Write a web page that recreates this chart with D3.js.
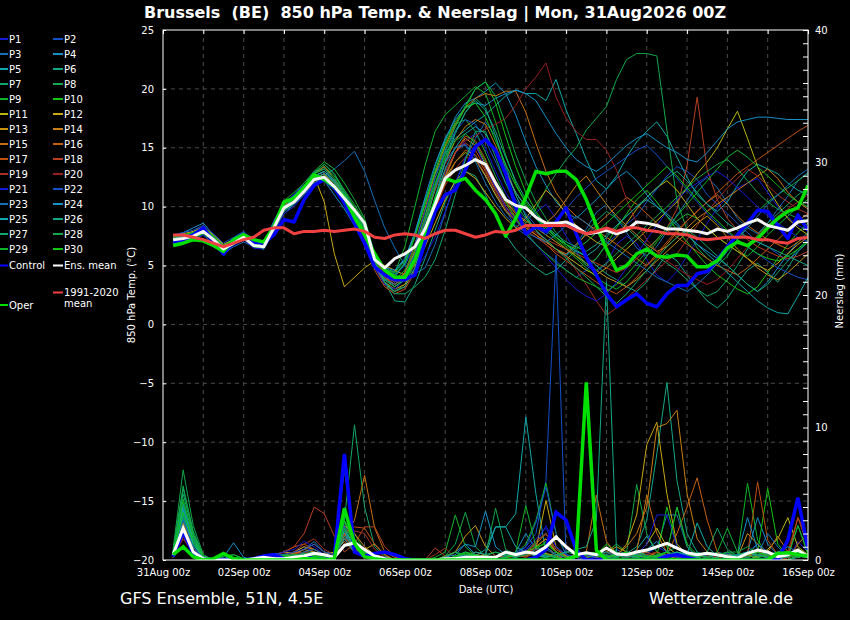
<!DOCTYPE html>
<html>
<head>
<meta charset="utf-8">
<script src="https://cdn.jsdelivr.net/npm/d3@7"></script>
<style>
  body { margin: 0; background: #000; }
  svg { display: block; }
  text { font-family: "DejaVu Sans", sans-serif; }
</style>
</head>
<body>
<script>
// 6-hourly steps, 31Aug 06z .. 16Sep 00z
var stepHours = d3.range(6, 385, 6);
var tickDays = ['31Aug 00z','02Sep 00z','04Sep 00z','06Sep 00z','08Sep 00z','10Sep 00z','12Sep 00z','14Sep 00z','16Sep 00z'];

// 850 hPa temperature (°C)
var tMean = [7.2,7.3,7.5,7.9,7.2,6.4,6.9,7.4,6.7,6.6, 8.2,9.9,10.4,11.3,12.3,12.5,11.7,10.7,9.7,8.6, 5.5,4.8,5.6,6.0,6.6,8.1,10.2,12.4,13.1,13.5, 14.0,13.6,12.0,10.6,10.1,9.9,9.1,8.6,8.6,8.7, 8.3,7.7,7.8,8.0,7.7,8.0,8.7,8.6,8.4,8.1, 8.1,8.0,7.9,7.7,8.1,7.9,8.2,8.6,8.9,8.4, 8.2,8.0,8.7,8.8];
var tControl = [7.0,7.2,7.6,8.2,7.0,6.0,7.2,7.4,7.0,6.9, 7.6,8.9,8.7,10.6,11.8,12.3,11.6,10.3,8.6,6.9, 4.9,4.2,3.8,3.8,4.2,7.0,9.6,11.0,11.4,13.1, 15.1,15.7,14.8,12.8,10.0,7.7,8.3,7.9,8.7,9.9, 7.7,5.7,4.2,2.6,1.5,2.1,2.6,1.8,1.5,2.6, 3.3,3.3,4.3,4.5,5.5,6.6,7.6,8.6,9.7,9.6, 8.4,7.3,9.3,8.0];
var tOper = [6.7,6.9,7.2,7.1,6.7,6.2,7.2,7.6,7.2,7.0, 8.3,10.4,10.7,11.6,12.7,12.3,11.7,10.8,9.1,7.6, 6.0,4.6,4.0,4.0,5.5,7.9,10.4,12.4,12.1,12.4, 11.4,10.6,9.4,7.5,9.0,10.8,13.0,12.8,13.0,13.0, 12.3,10.6,8.4,6.4,4.6,5.0,6.0,6.4,5.8,5.7, 5.9,5.8,4.9,4.9,5.4,6.5,7.0,6.7,7.3,8.2, 9.0,9.6,9.9,11.8];
var tClim = [7.6,7.6,7.4,7.2,6.9,6.6,6.9,7.2,7.4,8.0, 8.2,8.2,7.7,7.9,7.9,8.0,7.9,8.0,8.1,7.9, 7.4,7.3,7.6,7.7,7.6,7.3,7.7,8.0,8.0,7.7, 7.4,7.6,7.9,7.8,8.0,8.4,8.4,8.4,8.4,8.4, 8.0,7.7,7.9,8.2,7.9,8.2,8.2,8.0,7.9,7.7, 7.7,7.6,7.3,7.2,7.3,7.4,7.4,7.4,7.2,7.2, 7.0,6.9,7.3,7.4];

var P1 = [7.0,7.1,7.6,8.3,7.0,5.8,6.8,7.2,6.5,6.4, 8.0,9.6,10.3,11.5,12.6,12.9,12.0,10.5,9.0,7.5, 5.0,4.0,3.6,4.2,5.8,8.0,10.5,12.8,14.5,15.6, 16.2,15.0,13.0,11.2,9.8,8.9,9.5,10.2,9.0,7.5, 6.2,5.0,4.4,5.2,6.8,7.5,6.9,5.5,4.2,3.6, 4.5,5.8,7.2,8.6,9.9,10.8,11.6,12.0,12.4,11.2, 10.0,9.1,8.4,8.0];
var P2 = [7.3,7.5,7.8,8.0,7.3,6.5,7.0,7.6,6.9,6.7, 8.5,10.2,11.0,12.0,13.0,13.2,12.2,11.0,9.6,8.0, 5.6,4.5,4.3,5.1,6.8,9.0,11.5,13.7,15.0,15.3, 14.2,12.6,11.0,9.8,8.2,7.6,6.8,6.0,5.4,4.6, 4.0,4.6,5.6,6.8,7.6,8.5,9.2,10.4,11.5,12.6, 13.4,13.0,12.3,11.0,10.2,9.4,8.6,7.8,7.0,6.6, 6.0,5.4,6.2,7.0];
var P3 = [6.8,6.9,7.2,7.6,6.8,6.0,6.6,7.0,6.6,6.9, 8.8,10.4,10.9,11.6,12.0,12.6,13.2,13.9,14.7,13.0, 10.5,8.2,6.5,5.0,4.3,4.8,6.8,9.5,12.0,14.0, 15.8,17.2,16.0,13.5,11.0,9.2,8.0,7.0,6.4,5.9, 6.8,8.1,9.5,10.2,9.0,7.8,6.5,5.8,6.6,7.9, 9.3,10.5,11.8,12.5,11.6,10.3,9.0,8.2,7.7,8.6, 9.8,10.9,12.2,12.9];
var P4 = [7.5,7.8,8.2,8.6,7.6,6.7,7.3,7.8,7.0,6.8, 8.6,10.0,10.8,11.6,12.4,12.2,11.0,9.8,8.4,7.0, 4.8,3.8,4.0,5.2,7.5,10.2,13.0,15.6,17.6,18.8, 19.2,19.8,20.5,19.6,17.8,15.5,13.4,11.8,10.4,9.5, 9.0,9.8,10.6,11.5,12.4,13.0,12.2,11.0,10.0,9.4, 8.6,7.6,6.8,6.2,5.6,5.0,4.2,3.4,2.8,3.6, 4.8,6.0,7.0,7.8];
var P5 = [7.0,7.2,7.4,7.7,7.1,6.3,6.8,7.3,6.6,6.5, 8.1,9.7,10.4,11.4,12.2,12.8,12.1,11.0,9.8,8.4, 5.8,4.6,4.5,5.5,7.8,10.6,12.8,14.5,15.8,16.5, 17.2,17.8,18.6,19.4,19.9,19.6,19.6,19.0,20.8,18.2, 16.2,14.0,12.2,11.5,12.6,14.2,15.5,16.4,17.2,16.0, 14.2,12.5,11.0,10.2,9.6,10.4,11.8,13.0,13.6,13.2, 12.8,12.0,11.4,11.0];
var P6 = [7.1,7.4,7.7,8.1,7.4,6.6,7.1,7.5,6.8,6.4, 7.9,9.4,10.2,11.0,12.0,12.4,11.6,10.4,9.2,8.0, 5.2,3.6,2.0,1.9,3.4,5.6,8.0,10.4,12.2,13.0, 12.6,11.0,9.2,7.6,6.4,5.5,4.8,4.2,4.6,5.5, 6.3,5.8,5.0,4.3,3.8,3.2,2.8,3.6,4.8,6.0, 5.4,4.2,3.0,2.0,1.4,2.2,3.5,4.6,5.2,4.4, 3.6,4.8,6.2,7.0];
var P7 = [6.9,7.0,7.3,7.8,7.0,6.2,6.9,7.4,6.8,6.7, 8.4,10.1,10.9,11.8,12.9,13.6,12.8,11.2,9.4,7.6, 4.9,3.4,2.8,3.4,5.2,8.2,11.6,14.2,16.4,18.0, 19.2,18.4,16.0,13.2,11.0,9.2,8.0,7.2,6.4,5.8, 6.6,7.8,8.8,9.6,9.0,8.2,7.4,6.6,5.8,5.2, 4.6,3.8,3.0,2.4,2.8,3.8,5.0,6.4,7.6,8.6, 9.4,10.2,11.0,11.6];
var P8 = [7.2,7.3,7.6,8.0,7.3,6.4,6.9,7.3,6.6,6.4, 8.0,9.8,10.6,11.6,12.8,13.4,12.6,11.4,10.2,8.8, 6.0,4.8,4.4,5.4,7.6,10.4,13.4,15.8,17.0,17.4, 16.4,14.6,12.6,10.8,9.6,8.6,9.8,11.5,12.8,14.0, 15.0,16.5,17.5,18.5,20.8,22.5,23.0,23.0,22.8,16.5, 10.5,8.0,6.5,5.6,5.0,5.8,7.2,8.4,9.6,10.4, 11.0,11.6,12.2,12.8];
var P9 = [7.4,7.6,7.8,8.2,7.5,6.7,7.2,7.7,6.9,6.8, 8.6,10.5,11.2,12.0,13.0,13.8,13.2,12.0,10.6,9.0, 6.0,4.6,4.4,6.6,10.0,13.5,16.4,17.8,18.6,19.4, 20.2,19.6,17.2,14.4,12.0,10.2,9.0,8.0,7.2,6.4, 5.6,4.8,4.0,3.4,3.0,3.6,4.6,5.8,7.0,8.0, 8.8,9.4,9.0,8.2,7.4,6.8,6.2,5.8,6.6,7.6, 8.4,9.2,10.0,10.6];
var P10 = [7.0,7.1,7.3,7.7,7.0,6.2,6.8,7.3,6.7,6.7, 8.2,10.0,10.7,11.6,12.6,13.0,12.2,11.0,9.8,8.4, 5.4,3.8,3.2,4.0,6.2,9.2,12.4,15.0,16.8,18.4, 20.0,20.6,18.8,16.0,13.4,11.2,9.6,8.4,7.4,6.6, 5.8,5.0,5.6,6.8,8.2,9.4,10.6,11.4,10.4,9.2, 8.0,7.0,6.0,5.0,4.2,3.6,3.0,2.6,3.2,4.4, 5.6,6.8,7.8,8.6];
var P11 = [7.3,7.4,7.6,8.0,7.4,6.6,7.1,7.6,6.9,6.7, 8.3,10.0,10.6,11.5,12.4,12.8,12.0,10.8,9.6,8.2, 5.4,4.0,3.4,4.0,5.6,7.8,10.2,12.4,13.8,14.6, 14.0,12.6,11.0,9.6,8.8,8.2,7.6,7.0,6.4,5.8, 5.2,4.6,4.2,4.8,5.6,6.4,7.2,8.0,8.8,9.6, 10.4,11.6,12.8,13.8,15.0,16.6,18.1,15.8,13.4,11.6, 10.2,9.0,8.2,7.6];
var P12 = [7.5,7.7,7.9,8.3,7.6,6.8,7.2,7.7,7.0,6.9, 8.5,10.2,10.8,11.8,12.6,10.4,6.0,3.2,4.0,4.8, 5.4,5.0,4.6,4.2,5.0,6.6,8.6,10.6,12.2,13.0, 12.4,11.2,10.0,9.0,8.2,9.0,10.2,11.4,10.6,9.4, 8.4,7.6,7.0,6.6,7.4,8.6,9.8,10.8,11.6,12.2, 11.4,10.2,9.0,8.2,7.4,6.8,6.2,5.6,5.0,4.6, 5.2,6.0,6.8,7.4];
var P13 = [7.1,7.2,7.4,7.8,7.1,6.3,6.8,7.3,6.6,6.5, 8.0,9.8,10.5,11.4,12.4,12.8,11.8,10.6,9.4,8.0, 5.2,3.6,3.0,3.4,4.8,7.2,10.0,12.6,14.6,15.8, 15.2,13.6,11.8,10.4,9.4,8.8,8.2,7.6,7.0,6.4, 5.8,5.2,4.6,4.0,3.6,3.2,3.8,4.6,5.4,6.2, 7.0,7.8,8.6,9.2,8.4,7.4,6.4,5.6,4.8,4.2, 3.8,4.4,5.2,6.0];
var P14 = [7.4,7.5,7.7,8.0,7.3,6.5,7.0,7.5,6.8,6.6, 8.2,10.0,10.8,11.8,12.8,13.4,12.4,11.0,9.6,8.2, 5.6,4.2,3.6,4.4,6.2,8.8,11.4,13.8,15.6,16.8, 17.4,17.0,15.2,13.0,11.2,10.0,9.2,8.6,9.4,10.6, 11.8,12.6,11.4,10.2,9.2,8.4,7.6,6.8,6.2,6.6, 7.4,8.2,9.0,9.6,10.2,10.8,11.4,12.0,12.6,13.2, 12.4,11.2,10.4,9.8];
var P15 = [7.2,7.3,7.5,7.9,7.2,6.4,6.9,7.4,6.7,6.6, 8.1,9.8,10.4,11.3,12.2,12.6,11.8,10.6,9.4,8.0, 5.2,3.8,3.4,4.4,6.8,9.8,12.8,15.2,17.0,18.4, 19.2,19.6,19.4,19.8,19.8,18.0,15.4,13.0,11.2,10.0, 9.2,8.6,8.0,7.4,6.8,6.2,5.6,5.0,5.8,6.8, 7.8,8.8,9.6,10.4,11.0,10.2,9.2,8.4,7.8,7.2, 6.8,6.4,7.0,7.6];
var P16 = [7.0,7.2,7.5,7.8,7.1,6.3,6.8,7.2,6.6,6.5, 8.0,9.6,10.4,11.2,12.2,12.6,11.8,10.6,9.2,7.8, 5.0,3.4,2.8,3.2,4.6,7.0,9.6,12.0,13.8,14.8, 14.4,13.0,11.4,10.0,9.0,8.2,7.6,7.0,6.4,6.0, 6.8,7.6,8.4,9.2,10.0,10.8,10.2,9.4,8.6,8.0, 7.4,6.8,6.2,5.6,5.0,4.6,4.2,4.8,5.6,6.4, 7.2,8.0,8.8,9.4];
var P17 = [7.3,7.4,7.6,8.0,7.3,6.5,7.0,7.5,6.8,6.7, 8.3,10.1,10.8,11.6,12.6,13.0,12.2,10.8,9.2,7.6, 4.6,3.2,2.6,3.0,4.4,6.8,9.6,12.4,14.6,16.0, 15.6,14.0,12.2,10.6,9.4,8.4,7.6,6.8,6.0,5.4, 4.8,4.2,3.6,3.0,2.6,3.2,4.0,5.0,6.0,7.0, 8.0,8.8,9.6,10.4,11.2,12.0,12.8,13.4,14.0,14.6, 15.2,15.8,16.4,16.9];
var P18 = [7.1,7.2,7.4,7.8,7.2,6.4,6.9,7.4,6.7,6.6, 8.2,9.9,10.5,11.4,12.4,12.8,12.0,10.8,9.6,8.2, 5.4,4.0,3.4,4.0,5.6,8.0,10.6,13.0,14.6,15.4, 14.8,13.2,11.6,10.2,9.2,8.4,7.8,7.2,6.8,6.4, 6.0,5.6,5.2,4.8,4.4,4.8,5.6,6.4,7.2,8.2, 9.8,13.5,19.3,13.1,10.6,9.0,8.0,7.2,6.6,6.2, 5.8,5.6,5.8,6.2];
var P19 = [7.2,7.4,7.6,8.0,7.3,6.5,7.0,7.5,6.8,6.7, 8.1,9.8,10.4,11.2,12.0,12.2,11.4,10.2,9.0,7.8, 5.2,3.8,3.2,3.8,5.2,7.4,9.8,11.8,13.2,14.2, 14.0,12.8,11.2,9.8,8.8,8.0,7.4,6.8,6.2,5.8, 4.6,3.4,2.0,0.8,1.4,2.2,3.0,3.8,4.6,5.4, 6.0,7.2,8.4,9.6,10.6,11.6,12.4,13.2,12.6,11.8, 11.0,10.4,9.8,9.4];
var P20 = [7.4,7.5,7.7,8.1,7.4,6.6,7.1,7.6,6.9,6.8, 8.4,10.2,10.8,11.6,12.6,13.0,12.2,11.0,9.8,8.4, 5.6,4.4,3.8,4.6,6.4,9.0,11.6,13.6,15.0,15.6, 16.0,16.6,17.0,17.5,18.6,20.0,21.0,22.2,19.3,17.5, 16.4,15.7,15.7,14.8,13.1,10.6,8.6,7.2,6.2,5.4, 4.8,4.2,3.8,3.4,3.8,4.6,5.6,6.6,7.6,8.4, 9.2,9.8,10.4,11.0];
var P21 = [6.8,6.9,7.1,7.6,6.9,6.1,6.7,7.2,6.5,6.4, 7.8,9.4,10.0,11.0,12.0,12.4,11.6,10.4,9.0,7.6, 4.8,3.4,3.0,3.8,4.6,5.8,7.4,9.6,12.0,14.2, 15.2,13.4,11.6,10.0,8.8,7.8,6.8,5.8,4.8,3.8, 3.0,2.4,2.0,2.6,3.6,4.8,6.0,7.2,8.4,9.6, 10.6,11.4,12.0,12.6,13.0,12.4,11.6,10.8,10.0,9.2, 8.6,8.0,7.4,7.0];
var P22 = [7.6,7.8,8.0,8.4,7.7,6.9,7.4,7.9,7.1,7.0, 8.6,10.3,11.0,11.8,12.8,13.2,12.4,11.2,9.8,8.4, 5.8,4.6,4.2,5.0,6.8,9.6,12.4,14.8,16.4,17.4, 17.0,15.6,13.8,12.0,10.6,9.4,8.4,7.6,8.6,9.8, 10.8,11.6,12.4,13.0,13.6,14.2,14.8,15.2,14.4,13.4, 12.4,11.4,10.4,9.4,8.6,7.8,7.2,6.6,6.0,5.4, 4.8,4.4,4.0,3.8];
var P23 = [7.0,7.1,7.4,7.9,7.2,6.4,6.9,7.4,6.7,6.6, 8.0,9.6,10.2,11.0,12.0,12.2,11.4,10.2,9.0,7.6, 5.0,3.8,3.4,4.2,6.0,8.8,11.6,13.8,15.0,15.2, 13.8,12.0,10.4,9.2,8.4,7.8,7.4,7.0,7.6,8.4, 9.2,8.6,7.8,7.0,6.4,5.8,5.2,4.6,4.0,3.6, 3.2,2.8,3.4,4.2,5.2,6.2,7.2,8.2,9.2,10.2, 11.0,11.8,12.6,13.2];
var P24 = [7.3,7.5,7.8,8.2,7.4,6.6,7.1,7.6,6.9,6.8, 8.4,10.0,10.7,11.6,12.6,13.0,12.2,11.0,9.8,8.6, 6.0,4.8,4.6,5.6,7.8,10.8,13.6,15.8,17.4,18.4, 18.8,18.6,19.2,19.6,19.9,19.6,19.0,17.6,16.2,15.0, 14.0,13.4,13.0,13.6,14.4,15.2,15.8,16.2,15.6,15.0, 14.6,14.0,13.8,14.6,15.6,16.6,17.2,17.4,17.6,17.6, 17.5,17.4,17.4,17.4];
var P25 = [7.1,7.2,7.5,7.9,7.2,6.4,6.9,7.3,6.6,6.5, 8.0,9.7,10.4,11.2,12.2,12.6,11.8,10.6,9.4,8.0, 5.2,3.8,3.2,3.8,5.4,8.0,10.8,13.2,15.0,16.2, 16.8,16.2,14.6,12.8,11.2,10.0,9.0,8.2,7.4,6.8, 6.2,5.8,6.4,7.4,8.4,9.2,10.0,10.6,10.0,9.2, 8.4,7.6,6.8,6.0,5.2,4.4,3.6,2.8,2.0,1.4, 1.0,0.9,2.4,4.0];
var P26 = [7.2,7.4,7.7,8.1,7.4,6.6,7.1,7.6,6.9,6.7, 8.3,10.0,10.7,11.6,12.6,13.0,12.2,11.0,9.6,8.0, 5.2,3.6,2.8,3.2,4.8,7.6,10.8,13.8,16.2,18.0, 19.0,18.2,16.4,14.2,12.2,10.6,9.4,8.4,7.6,7.0, 6.6,6.2,6.8,7.6,8.4,9.2,10.0,10.8,11.6,12.4, 13.0,12.2,11.2,10.2,9.4,8.6,8.0,7.4,7.0,6.6, 6.2,5.8,5.4,5.0];
var P27 = [7.0,7.1,7.4,7.8,7.1,6.3,6.8,7.3,6.6,6.5, 8.1,9.8,10.5,11.4,12.4,12.8,12.0,10.8,9.6,8.2, 5.2,3.6,2.6,2.6,3.2,4.0,5.5,8.0,11.0,14.0, 16.4,16.4,14.2,12.0,10.2,9.0,8.0,7.2,6.4,5.6, 4.8,4.0,3.2,2.4,1.8,2.6,3.6,4.6,5.6,6.6, 7.4,8.0,7.4,6.6,5.8,5.0,4.2,3.4,2.8,3.4, 4.4,5.4,6.4,7.2];
var P28 = [7.3,7.4,7.6,8.0,7.3,6.5,7.0,7.5,6.8,6.7, 8.2,9.9,10.6,11.6,12.8,13.6,12.8,11.4,9.8,8.2, 5.4,3.8,3.2,3.8,5.6,8.6,11.8,14.6,16.8,18.6, 20.0,20.6,19.4,17.0,14.4,12.2,10.4,9.0,7.8,6.8, 6.0,5.2,4.6,5.2,6.0,6.8,7.6,8.4,9.2,10.0, 10.8,11.6,12.4,13.0,13.6,14.0,13.2,12.2,11.2,10.4, 9.8,9.4,9.0,8.8];
var P29 = [7.1,7.2,7.4,7.8,7.1,6.3,6.8,7.3,6.6,6.5, 8.0,9.7,10.3,11.2,12.2,12.6,11.8,10.6,9.4,8.0, 5.4,4.2,3.8,4.6,6.4,9.2,12.0,14.2,15.6,16.2, 15.4,13.8,12.0,10.4,9.0,7.8,6.8,6.0,5.2,4.6, 4.0,3.6,3.2,2.8,3.4,4.2,5.2,6.2,7.2,8.2, 9.2,10.2,11.2,12.2,13.2,14.2,14.8,14.2,13.4,12.6, 11.8,11.0,10.4,10.0];
var P30 = [7.4,7.6,7.8,8.2,7.5,6.7,7.2,7.7,7.0,6.9, 8.5,10.2,10.9,11.8,12.8,13.2,12.4,11.2,10.0,8.6, 5.8,4.6,4.2,5.2,7.4,10.2,13.0,15.4,17.2,18.4, 18.8,17.6,15.6,13.6,11.8,10.4,9.2,8.2,7.4,6.8, 6.4,7.0,7.8,8.6,9.4,10.2,11.0,11.8,12.6,13.4, 12.6,11.6,10.6,9.6,8.8,8.0,7.2,6.6,6.0,5.6, 5.4,5.8,6.4,7.0];

// precipitation per 6 h (mm)
var pMean = [.4,2.4,.6,.1,0,0,0,0, .1,.2,.1,.1,.2,.3,.5,.4, .2,1.1,1.3,.8,.3,.1,0,0, 0,0,0,.1,.1,.2,.2,.2, .2,.6,.4,.6,.5,1.0,1.75,1.0, .4,.55,.4,.9,.45,.4,.6,.75, 1.0,1.25,.9,.55,.4,.5,.4,.25, .15,.5,.75,.6,.25,.4,.75,.25];
var pControl = [.25,2.1,.5,.1,0,0,0,0, .1,.3,.4,.1,.1,.2,.1,0, .2,8.0,.6,.3,.5,.6,.4,.1, 0,0,0,0,0,0,0,0, 0,0,0,0,.2,.8,3.6,3.0, .75,0,0,0,0,0,0,0, 0,.3,.4,.2,0,0,0,0, 0,0,0,0,0,1.5,4.7,.8];
var pOper = [.4,1.0,.25,0,.1,.5,.1,0, 0,0,0,0,0,.1,.1,0, .1,3.9,1.25,.25,.1,0,0,0, 0,0,0,0,0,0,0,0, 0,0,0,0,0,0,0,0, .3,13.4,.75,0,0,0,0,0, 0,0,0,0,0,0,0,0, 0,0,0,0,.5,.55,.4,.3];

var R1 = [.3,2.0,.6,.1,0,0,0,0, 0,0,.2,.4,.6,1.0,.6,.2, .4,2.5,.8,.3,.2,.1,0,0, 0,0,0,0,.2,.4,.3,.2, 0,.3,.5,.8,1.2,2.6,1.0,.4, .2,0,0,.3,.5,.2,0,.4, 1.0,.6,.3,0,0,.2,.4,.2, 0,0,.3,.5,.2,0,1.4,.6];
var R2 = [.2,2.6,.8,.2,0,0,.1,0, 0,.2,.3,.1,0,.3,.5,.2, .3,6.8,1.2,.4,.2,0,0,0, 0,0,0,.1,.2,.1,0,0, 0,.2,.4,1.0,2.0,6.0,23.0,0, .3,.2,0,.4,.8,.4,.2,0, 0,.2,.4,.3,0,0,.2,.5, .3,0,0,.2,.4,.3,.6,.2];
var R3 = [.4,3.0,1.0,.2,0,0,0,0, 0,.1,.3,.2,.4,.8,1.4,.6, .5,3.0,1.0,.5,.3,.2,0,0, 0,0,0,0,0,.2,.4,.2, 0,0,.2,.5,.3,.8,.4,0, 0,.2,.5,.3,0,0,.3,.6, .9,3.4,3.4,1.0,.2,0,0,0, 0,.2,.6,.3,0,.2,.4,.3];
var R4 = [.5,4.0,1.6,.3,0,.2,1.3,.2, 0,0,.1,.3,.2,.4,.6,.3, .2,2.0,.6,.2,.1,0,0,0, 0,0,0,.2,.6,1.2,.4,.2, 0,.2,.6,2.0,.8,.4,.2,0, .3,.6,.4,.2,.5,.4,.2,.8, 1.4,.6,.3,.1,0,.2,.6,.4, .2,.6,3.2,1.2,.4,0,.3,.2];
var R5 = [.6,3.6,1.4,.2,0,0,.2,0, 0,0,.2,.1,0,.3,.4,.2, .3,1.8,.8,.3,.1,0,0,0, 0,0,0,0,.2,.4,.3,.8, 2.5,2.5,3.5,10.8,5.0,.5,.2,0, 0,.2,.4,.6,.3,.2,.8,1.8, .6,.3,.1,0,.2,.4,.2,0, 0,.2,.4,.3,0,0,.2,.4];
var R6 = [.4,3.2,1.0,.2,0,0,0,0, 0,0,.1,.2,.3,.5,.3,.1, .2,2.2,1.0,.4,.2,0,0,0, 0,0,0,0,0,.2,.3,.2, 0,.2,.4,.6,.3,.2,.6,.3, .2,.4,.6,.3,.2,.5,1.0,3.0, 8.0,13.4,6.0,2.0,.6,.2,0,0, .2,.4,.2,0,.2,.5,.3,.2];
var R7 = [.6,5.0,2.0,.3,0,0,.1,0, 0,0,.2,.3,.2,.4,.6,.4, .6,3.0,10.2,4.0,1.0,.3,0,0, 0,0,0,.2,.6,.3,.2,.4, .6,.3,.2,.4,.6,1.0,.4,.2, 0,.2,.4,.2,0,.3,.6,.4, .2,0,0,.3,.6,.3,.1,0, .2,.6,.4,.2,0,.2,.8,.4];
var R8 = [.8,6.8,2.6,.4,0,0,.2,.1, 0,0,.1,.2,.3,.6,.5,.2, .4,2.8,1.6,.6,.2,.1,0,0, 0,0,0,.3,1.2,3.6,1.0,.3, 3.9,.8,.4,.6,1.4,2.0,.6,.2, 0,.3,.6,.4,.2,.6,5.7,2.0, .6,.2,0,0,.3,.6,.4,.2, 0,.4,1.2,.6,.2,0,.3,.2];
var R9 = [.5,4.4,1.8,.3,0,0,.1,0, 0,0,.2,.3,.2,.3,.5,.3, .3,3.4,2.0,.6,.2,0,0,0, 0,0,.2,.6,3.4,1.0,.3,.2, 0,.2,.5,1.2,3.0,5.8,2.0,.4, .2,0,.3,.6,1.2,.6,.3,.2, 0,.3,.6,.4,.2,0,.2,.6, .3,5.8,1.5,.4,.2,0,.4,.3];
var R10 = [.4,3.8,1.2,.2,0,0,0,0, 0,0,.1,.2,.3,.4,.3,.2, .3,2.6,1.4,.5,.2,.1,0,0, 0,0,0,0,.3,.6,.3,.2, 0,.3,.6,.4,.8,1.4,.6,.2, .3,.6,.4,1.2,.6,.3,.2,0, .3,4.0,1.0,.3,0,.2,.4,.2, 0,.4,.6,5.4,1.2,.3,2.6,.4];
var R11 = [.2,1.8,.5,.1,0,0,0,0, 0,0,.2,.3,.2,.4,.3,.2, .3,1.6,.8,.6,.2,0,0,0, 0,0,0,0,0,.2,.3,.2, 0,.2,.3,.5,1.0,1.6,.6,.2, 0,.2,.4,.2,0,.2,.4,1.2, 2.4,1.0,.4,.2,0,.2,.4,.3, .2,0,.3,.8,1.6,3.2,1.0,.4];
var R12 = [.3,2.2,.6,.1,0,0,0,0, 0,0,.1,.3,.6,1.0,.8,.4, .6,1.4,.6,.8,1.2,.4,0,0, 0,0,0,0,0,.2,.4,.3, 0,.2,.6,.3,.8,4.5,1.0,.3, 0,.2,.4,.6,.3,1.2,3.4,8.7, 10.4,5.0,1.2,.4,.2,0,.2,.4, .3,0,.2,.6,.3,.2,.4,.3];
var R13 = [.4,2.8,.8,.2,0,0,0,0, 0,.2,.4,.6,.5,.8,.6,.4, .3,2.6,2.0,1.0,.4,.2,0,0, 0,0,0,.3,.6,1.8,2.6,1.0, .3,.2,.4,.6,.3,.5,.3,0, .2,.4,.2,.6,1.0,.6,.4,.2, .6,.3,.2,0,.2,.4,.2,0, .2,2.0,1.2,.3,0,.2,.4,.3];
var R14 = [.3,2.4,.7,.1,0,0,0,0, 0,0,.2,.3,.4,.6,.8,.4, .3,2.0,1.0,.5,.2,0,0,0, 0,0,0,0,.2,.3,.6,.4, 0,.3,.6,.4,1.0,1.6,.6,.2, .4,.6,.3,.2,.4,1.0,2.0,4.0, 10.0,10.3,11.3,5.0,1.6,.6,.2,0, .2,.4,.2,.6,1.8,.6,.3,.2];
var R15 = [.3,2.6,.8,.2,0,0,0,0, 0,.1,.3,.2,.4,.8,1.2,.6, .4,1.8,3.0,6.4,2.4,.6,.2,0, 0,0,0,0,.2,.4,.2,0, 0,.2,.3,.6,1.2,2.0,.8,.3, .2,.6,4.9,1.4,.4,.2,.6,4.9, 2.0,.6,.2,0,.2,.4,.2,0, .2,.3,.6,.4,.2,0,1.2,2.0];
var R16 = [.2,2.0,.6,.1,0,0,0,0, 0,0,.2,.4,.6,.5,.3,.2, .4,1.6,1.2,.4,.2,.1,0,0, 0,0,0,0,0,.2,.3,.2, 0,.2,.4,.2,.6,1.0,.4,.2, .3,.2,.4,.6,.3,.2,.4,.6, .3,.4,2.0,4.0,6.2,3.0,.6,.2, 0,.2,.4,.2,.6,.3,.2,.4];
var R17 = [.3,2.4,.8,.2,0,0,0,0, 0,.2,.3,.6,1.0,1.2,.8,.4, .3,2.0,2.5,2.4,1.2,.4,0,0, 0,0,0,0,0,.2,.3,.2, 0,.2,.3,.5,.8,.4,.2,0, .2,.4,.2,0,.3,.6,.4,.2, 0,.2,.4,.6,.3,.2,0,0, .2,.4,5.9,1.5,.4,.2,3.2,1.0];
var R18 = [.2,1.8,.5,.1,0,0,0,0, 0,.2,.4,.6,1.0,2.0,4.0,3.5, 1.8,.6,1.2,2.5,2.5,1.0,.3,0, 0,0,.9,.3,0,0,.2,0, 0,.2,.4,.3,.6,1.0,.4,.2, 0,.2,.3,.6,.4,.2,0,0, .2,.4,.3,0,.2,.4,.2,0, .3,.6,.4,.2,.3,.6,3.2,1.6];
var R19 = [.2,1.6,.5,.1,0,0,0,0, 0,.1,.3,.4,.6,1.2,1.6,.8, .4,1.2,2.2,2.0,.8,.2,0,0, 0,0,.4,.9,.2,0,0,0, 0,.2,.6,.4,1.4,2.0,.6,.2, 0,.3,.6,.3,.2,0,.2,.4, .6,.3,.2,0,0,.2,.4,.2, 0,.2,.4,.2,0,.2,.6,.3];
var R20 = [.3,2.0,.6,.1,0,0,0,0, 0,0,.2,.3,.4,.6,.4,.2, .3,1.8,.8,.4,.2,0,0,0, 0,0,0,.2,0,0,0,0, 0,.2,.4,.6,.8,.4,.2,0, 0,.2,.4,.6,.4,.2,0,0, .2,.4,.2,0,.2,.4,.2,0, 0,.2,.4,.2,0,.2,.4,.2];
var R21 = [.3,2.2,.8,.2,0,0,0,0, 0,.2,.4,.6,.8,1.4,1.0,.4, .3,4.0,1.2,.4,.3,.2,0,0, 0,0,0,0,.2,.3,.2,0, 0,.2,.4,.8,1.6,2.4,1.0,.4, .2,0,.3,.6,.3,.2,.4,1.2, 3.4,3.4,1.0,.3,0,.2,.4,.2, 0,.2,.4,.3,.2,.4,.6,.3];
var R22 = [.2,2.4,.6,.1,0,0,0,0, 0,.3,.5,.4,.6,.8,1.2,.6, .4,2.6,.8,.3,.2,.1,0,0, 0,0,0,0,.2,.4,.2,0, 0,.2,.6,1.0,2.8,5.5,2.0,.4, .2,.4,.2,0,.2,.4,.6,.3, .2,.4,.2,0,.2,.4,.3,.2, .4,.6,1.2,.6,.2,.3,.6,.4];
var R23 = [.4,3.0,1.0,.2,0,0,.1,0, 0,0,.2,.4,.3,.6,.8,.4, .2,2.2,.6,.3,.2,0,0,0, 0,0,0,0,.2,.4,.2,0, 0,.3,.6,.4,.8,1.0,.4,.2, 0,.2,.4,.3,.2,.6,.4,.2, 0,.2,.4,.6,.3,.2,.4,.2, .3,.6,.4,2.0,1.0,.3,.2,.4];
var R24 = [.5,3.8,1.4,.3,0,.1,.4,.1, 0,0,.2,.3,.2,.4,.3,.2, .3,1.6,.6,.2,.1,0,0,0, 0,0,0,.2,.4,1.2,1.0,3.7, 1.0,.4,.2,.6,.4,.3,.2,0, .2,.6,.4,.2,.3,.6,.4,.2, .3,.6,.4,.2,.3,.6,.4,.2, .3,3.2,.8,.4,.6,1.0,.6,.3];
var R25 = [.6,3.4,1.2,.2,0,0,0,0, 0,0,.1,.2,.3,.4,.3,.2, .2,2.4,1.0,.4,.2,0,0,0, 0,0,0,0,0,.2,.6,.4, 2.5,2.5,1.0,.6,.4,.3,.2,0, .2,.4,.6,.3,.2,.4,.6,.3, .2,.4,.6,.4,2.8,1.0,.3,.2, .4,.6,.3,.2,.4,.6,.3,.2];
var R26 = [.5,4.2,1.6,.3,0,0,0,0, 0,0,.2,.3,.2,.4,.3,.2, .3,2.2,1.0,.4,.2,0,0,0, 0,0,0,0,.3,.6,.4,.2, 0,.2,.4,.6,.3,.2,.4,.6, .8,1.0,3.0,21.0,.6,.3,.2,0, .2,.4,.6,.3,.2,0,.2,.4, .3,.6,.4,.2,0,.3,.6,.2];
var R27 = [.7,5.4,2.2,.3,0,0,0,0, 0,0,.2,.3,.4,.3,.2,.2, .3,1.8,1.0,.4,.2,0,0,0, 0,0,0,0,.2,.4,.3,.2, 0,.2,.4,.6,.4,.2,.3,.6, .4,.2,.4,.6,.3,.2,.4,.2, .3,.6,1.0,.4,.2,.6,2.4,.8, .3,.2,.4,.6,.3,.2,.4,.3];
var R28 = [.6,5.6,2.0,.3,0,0,.1,0, 0,0,.2,.4,.3,.5,.4,.3, .3,3.0,1.4,.6,.2,0,0,0, 0,0,0,.3,.6,.4,.2,.3, .6,.4,.2,.4,.6,.4,.2,0, .2,.4,.6,.3,.4,.6,.3,.2, .4,.6,4.0,1.0,.3,.2,.4,.6, .6,1.0,.4,.6,.3,.2,2.6,.6];
var R29 = [.5,4.6,1.8,.3,0,0,0,0, 0,0,.2,.3,.4,.3,.4,.2, .3,2.4,1.2,.5,.2,0,0,0, 0,0,0,0,.2,.6,.4,.2, 0,.2,.6,4.1,1.0,.4,.2,0, .2,.4,.6,.3,.2,.4,.6,.3, .2,.6,4.0,1.2,.4,.2,.6,2.4, .6,.3,.2,.4,.6,.3,.2,.4];
var R30 = [.4,3.6,1.4,.2,0,.3,.4,.1, 0,0,.2,.3,.2,.4,.3,.2, .3,3.0,1.6,.5,.2,0,0,0, 0,0,0,0,.3,.5,.3,.2, 0,.2,.4,.6,1.0,1.2,.6,.2, .3,.6,.3,.2,.4,.6,.3,.2, .3,.6,.3,.2,.4,.6,.3,.2, .2,.4,.6,.3,.2,.4,.6,.3];

var memberTemps = [P1,P2,P3,P4,P5,P6,P7,P8,P9,P10,P11,P12,P13,P14,P15,P16,P17,P18,P19,P20,P21,P22,P23,P24,P25,P26,P27,P28,P29,P30];
var memberPrecip = [R1,R2,R3,R4,R5,R6,R7,R8,R9,R10,R11,R12,R13,R14,R15,R16,R17,R18,R19,R20,R21,R22,R23,R24,R25,R26,R27,R28,R29,R30];
var memberNames = memberTemps.map(function (d, i) { return 'P' + (i + 1); });
var palette = ['#1818d8','#1450c8','#1470b8','#1490c8','#10a8a8','#10a888','#10a868','#10a848','#10b428','#10c810',
               '#b8b810','#c8a810','#c89410','#c88010','#c87010','#c86010','#c05010','#b84020','#a83020','#982020'];

var W = 850, H = 620;
var L = 163, R = 808, T = 30, B = 560;
var start = Date.UTC(2026, 7, 31);
var times = stepHours.map(function (h) { return new Date(start + h * 3600e3); });
var tickDates = tickDays.map(function (d, i) { return new Date(start + i * 2 * 864e5); });

var x = d3.scaleUtc().domain([new Date(start), new Date(start + 384 * 3600e3)]).range([L, R]);
var yT = d3.scaleLinear().domain([-20, 25]).range([B, T]);
var yP = d3.scaleLinear().domain([0, 40]).range([B, T]);

var svg = d3.select('body').append('svg')
  .attr('width', W)
  .attr('height', H)
  .style('background', '#000');

svg.append('clipPath').attr('id', 'plot')
  .append('rect').attr('x', L).attr('y', T).attr('width', R - L).attr('height', B - T);

// grid
var grid = svg.append('g').attr('stroke', '#4a4a4a').attr('stroke-dasharray', '4,4').attr('stroke-width', 1);
d3.utcDay.range(new Date(start + 864e5), new Date(start + 384 * 3600e3)).forEach(function (d) {
  grid.append('line').attr('x1', x(d)).attr('x2', x(d)).attr('y1', T).attr('y2', B);
});
d3.range(-15, 25, 5).forEach(function (v) {
  grid.append('line').attr('x1', L).attr('x2', R).attr('y1', yT(v)).attr('y2', yT(v));
});

var lineT = d3.line().x(function (d, i) { return x(times[i]); }).y(function (d) { return yT(d); });
var lineP = d3.line().x(function (d, i) { return x(times[i]); }).y(function (d) { return yP(d); });

var plot = svg.append('g').attr('clip-path', 'url(#plot)').attr('fill', 'none');

// members
memberTemps.forEach(function (s, i) {
  plot.append('path').attr('d', lineT(s)).attr('stroke', palette[i % 20]).attr('stroke-width', 1);
});
memberPrecip.forEach(function (s, i) {
  plot.append('path').attr('d', lineP(s)).attr('stroke', palette[i % 20]).attr('stroke-width', 1);
});

// precipitation main lines
plot.append('path').attr('d', lineP(pControl)).attr('stroke', '#0000ff').attr('stroke-width', 3.5);
plot.append('path').attr('d', lineP(pMean)).attr('stroke', '#ffffff').attr('stroke-width', 3);
plot.append('path').attr('d', lineP(pOper)).attr('stroke', '#00e000').attr('stroke-width', 3.5);

// temperature main lines
plot.append('path').attr('d', lineT(tControl)).attr('stroke', '#0000ff').attr('stroke-width', 3.5).attr('stroke-linejoin', 'round');
plot.append('path').attr('d', lineT(tOper)).attr('stroke', '#00e000').attr('stroke-width', 3.5).attr('stroke-linejoin', 'round');
plot.append('path').attr('d', lineT(tMean)).attr('stroke', '#f4f4f4').attr('stroke-width', 3).attr('stroke-linejoin', 'round');
plot.append('path').attr('d', lineT(tClim)).attr('stroke', '#f04040').attr('stroke-width', 3).attr('stroke-linejoin', 'round');

// frame
svg.append('rect').attr('x', L).attr('y', T).attr('width', R - L).attr('height', B - T)
  .attr('fill', 'none').attr('stroke', '#ffffff').attr('stroke-width', 1);

// axes
function styleAxis(g, size) {
  g.attr('color', '#ffffff');
  g.select('.domain').remove();
  g.selectAll('text').style('font-size', size + 'px');
}
svg.append('g').attr('transform', 'translate(' + L + ',0)')
  .call(d3.axisLeft(yT).tickValues(d3.range(-20, 26, 5)).tickSize(-3).tickPadding(9))
  .call(styleAxis, 10);

svg.append('g').attr('transform', 'translate(' + R + ',0)')
  .call(d3.axisRight(yP).tickValues(d3.range(0, 41, 1)).tickSize(-5).tickPadding(7)
    .tickFormat(function (d) { return d % 10 === 0 ? d : ''; }))
  .call(styleAxis, 10);

svg.append('g').attr('transform', 'translate(0,' + B + ')')
  .call(d3.axisBottom(x).tickValues(tickDates).tickSize(0).tickPadding(9)
    .tickFormat(function (d, i) { return tickDays[i]; }))
  .call(styleAxis, 10);

svg.append('g').attr('transform', 'translate(0,' + T + ')')
  .call(d3.axisTop(x).ticks(d3.utcDay.every(1)).tickSize(-4).tickFormat(''))
  .call(styleAxis, 10);

// axis titles
svg.append('text').attr('transform', 'translate(135,295) rotate(-90)')
  .attr('text-anchor', 'middle').attr('fill', '#fff').style('font-size', '10px')
  .text('850 hPa Temp. (°C)');
svg.append('text').attr('transform', 'translate(843,291) rotate(-90)')
  .attr('text-anchor', 'middle').attr('fill', '#fff').style('font-size', '10px')
  .text('Neerslag (mm)');
svg.append('text').attr('x', 486).attr('y', 593)
  .attr('text-anchor', 'middle').attr('fill', '#fff').style('font-size', '10px')
  .text('Date (UTC)');

// title and footer
svg.append('text').attr('x', 435).attr('y', 18)
  .attr('text-anchor', 'middle').attr('fill', '#fff')
  .style('font-size', '16px').style('font-weight', 'bold').style('white-space', 'pre')
  .attr('textLength', 582).attr('lengthAdjust', 'spacingAndGlyphs')
  .text('Brussels  (BE)  850 hPa Temp. & Neerslag | Mon, 31Aug2026 00Z');
svg.append('text').attr('x', 120).attr('y', 604).attr('fill', '#fff').style('font-size', '16px')
  .text('GFS Ensemble, 51N, 4.5E');
svg.append('text').attr('x', 793).attr('y', 604).attr('text-anchor', 'end').attr('fill', '#fff').style('font-size', '16px')
  .text('Wetterzentrale.de');

// legend
var legend = svg.append('g').style('font-size', '10px');
function legendItem(x0, y0, color, label, lw) {
  legend.append('line').attr('x1', x0).attr('x2', x0 + lw).attr('y1', y0).attr('y2', y0)
    .attr('stroke', color).attr('stroke-width', 2);
  legend.append('text').attr('x', x0 + lw + 1).attr('y', y0).attr('dy', '0.35em')
    .attr('fill', '#fff').text(label);
}
memberNames.forEach(function (name, i) {
  var col = i % 2, row = Math.floor(i / 2);
  legendItem(col ? 53 : 0, 39 + row * 15, palette[i % 20], name, col ? 10 : 8);
});
legendItem(0, 265.5, '#0000ff', 'Control', 8);
legendItem(53, 265.5, '#ffffff', 'Ens. mean', 10);
legendItem(53, 292.5, '#f04040', '1991-2020', 10);
legend.append('text').attr('x', 64).attr('y', 303.5).attr('dy', '0.35em').attr('fill', '#fff').text('mean');
legendItem(0, 305, '#00e000', 'Oper', 8);
</script>
</body>
</html>
